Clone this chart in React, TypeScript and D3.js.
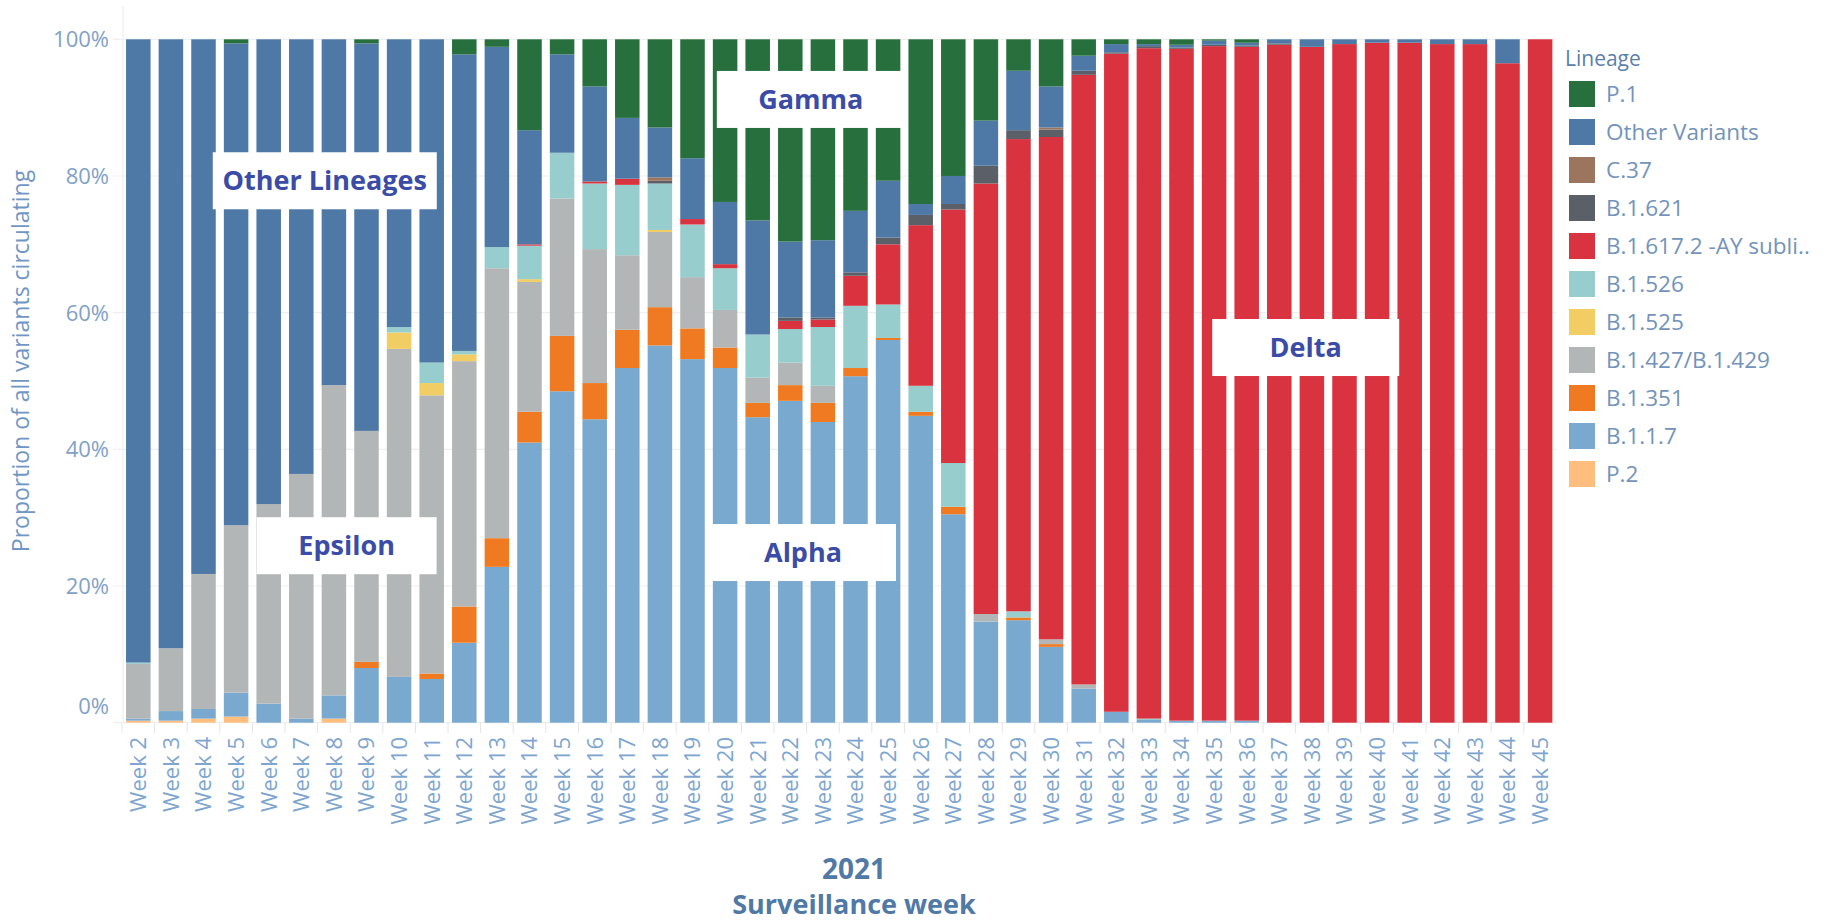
import { useMemo } from "react"
import * as d3 from "d3"

// Surveillance weeks, 2021
const weeks = d3.range(2, 46).map((w) => `Week ${w}`)

// share of sequences (%) per lineage, one value per week (Week 2 .. Week 45)
const p2 = [0.3, 0.3, 0.6, 0.9, 0, 0, 0.6, 0, 0, 0, 0, 0, 0, 0, 0, 0, 0, 0, 0, 0, 0, 0, 0, 0, 0, 0, 0, 0, 0, 0, 0, 0, 0, 0, 0, 0, 0, 0, 0, 0, 0, 0, 0, 0]
const b117 = [0.3, 1.4, 1.4, 3.5, 2.8, 0.6, 3.4, 8.0, 6.7, 6.4, 11.7, 22.8, 41.0, 48.5, 44.4, 51.9, 55.2, 53.2, 51.9, 44.7, 47.1, 44.0, 50.7, 56.0, 44.9, 30.5, 14.8, 15.0, 11.1, 5.0, 1.6, 0.4, 0.3, 0.3, 0.3, 0, 0, 0, 0, 0, 0, 0, 0, 0]
const b1351 = [0, 0, 0, 0, 0, 0, 0, 0.9, 0, 0.8, 5.3, 4.2, 4.5, 8.1, 5.3, 5.6, 5.6, 4.5, 3.0, 2.1, 2.3, 2.8, 1.2, 0.3, 0.6, 1.1, 0, 0.4, 0.4, 0, 0, 0, 0, 0, 0, 0, 0, 0, 0, 0, 0, 0, 0, 0]
const b1427 = [8.0, 9.2, 19.7, 24.5, 29.2, 35.8, 45.4, 33.8, 48.0, 40.7, 35.9, 39.5, 19.0, 20.1, 19.6, 10.9, 11.0, 7.5, 5.5, 3.7, 3.3, 2.5, 0, 0, 0, 0, 1.1, 0, 0.7, 0.6, 0, 0, 0, 0, 0, 0, 0, 0, 0, 0, 0, 0, 0, 0]
const b1525 = [0, 0, 0, 0, 0, 0, 0, 0, 2.4, 1.8, 1.0, 0, 0.4, 0, 0, 0, 0.3, 0, 0, 0, 0, 0, 0, 0, 0, 0, 0, 0, 0, 0, 0, 0, 0, 0, 0, 0, 0, 0, 0, 0, 0, 0, 0, 0]
const b1526 = [0.2, 0, 0, 0, 0, 0, 0, 0, 0.8, 3.0, 0.5, 3.1, 4.9, 6.7, 9.6, 10.3, 6.8, 7.7, 6.1, 6.3, 4.9, 8.6, 9.1, 4.9, 3.8, 6.4, 0, 0.9, 0, 0, 0, 0.2, 0, 0, 0, 0, 0, 0, 0, 0, 0, 0, 0, 0]
const b16172 = [0, 0, 0, 0, 0, 0, 0, 0, 0, 0, 0, 0, 0.2, 0, 0.3, 0.9, 0, 0.8, 0.6, 0, 1.2, 1.1, 4.4, 8.8, 23.5, 37.1, 63.0, 69.1, 73.5, 89.2, 96.3, 98.1, 98.3, 98.7, 98.6, 99.2, 98.9, 99.3, 99.5, 99.5, 99.3, 99.3, 96.5, 100]
const b1621 = [0, 0, 0, 0, 0, 0, 0, 0, 0, 0, 0, 0, 0, 0, 0, 0, 0.4, 0, 0, 0, 0.5, 0.3, 0.5, 1.0, 1.5, 0.8, 2.6, 1.3, 1.1, 0.6, 0.2, 0.3, 0.2, 0.2, 0.2, 0.2, 0, 0, 0, 0, 0, 0, 0, 0]
const c37 = [0, 0, 0, 0, 0, 0, 0, 0, 0, 0, 0, 0, 0, 0, 0, 0, 0.5, 0, 0, 0, 0, 0, 0, 0, 0, 0, 0, 0, 0.3, 0, 0, 0, 0, 0, 0, 0, 0, 0, 0, 0, 0, 0, 0, 0]
const other = [91.2, 89.1, 78.0, 70.5, 68.0, 63.6, 50.6, 56.7, 42.1, 47.3, 43.4, 29.3, 16.7, 14.4, 13.9, 8.9, 7.3, 8.9, 9.1, 16.7, 11.1, 11.3, 9.0, 8.3, 1.6, 4.1, 6.6, 8.7, 6.0, 2.2, 1.2, 0.3, 0.4, 0.6, 0.4, 0.6, 1.1, 0.7, 0.5, 0.5, 0.7, 0.7, 3.5, 0]
const p1 = [0, 0, 0, 0.6, 0, 0, 0, 0.6, 0, 0, 2.2, 1.1, 13.3, 2.2, 6.9, 11.5, 12.9, 17.4, 23.8, 26.5, 29.6, 29.4, 25.1, 20.7, 24.1, 20.0, 11.9, 4.6, 6.9, 2.4, 0.7, 0.7, 0.8, 0.2, 0.5, 0, 0, 0, 0, 0, 0, 0, 0, 0]

// stack order bottom -> top
const lineages = [
  { key: "p2", label: "P.2", color: "#ffbe7d", values: p2 },
  { key: "b117", label: "B.1.1.7", color: "#79a9cf", values: b117 },
  { key: "b1351", label: "B.1.351", color: "#f07a21", values: b1351 },
  { key: "b1427", label: "B.1.427/B.1.429", color: "#b3b6b7", values: b1427 },
  { key: "b1525", label: "B.1.525", color: "#f1cd63", values: b1525 },
  { key: "b1526", label: "B.1.526", color: "#97cdcc", values: b1526 },
  { key: "b16172", label: "B.1.617.2 -AY subli..", color: "#da3340", values: b16172 },
  { key: "b1621", label: "B.1.621", color: "#5b5f68", values: b1621 },
  { key: "c37", label: "C.37", color: "#9c755f", values: c37 },
  { key: "other", label: "Other Variants", color: "#4e79a7", values: other },
  { key: "p1", label: "P.1", color: "#27703d", values: p1 },
]

const yTicks = [0, 0.2, 0.4, 0.6, 0.8, 1]

// text boxes over the bars: centre in week units and share
const annotations = [
  { text: "Other Lineages", week: 7.72, share: 0.793, w: 224 },
  { text: "Epsilon", week: 8.39, share: 0.259, w: 180 },
  { text: "Gamma", week: 22.63, share: 0.912, w: 188 },
  { text: "Alpha", week: 22.39, share: 0.249, w: 186 },
  { text: "Delta", week: 37.81, share: 0.549, w: 187 },
]

const FONT = "'Open Sans', 'Noto Sans', sans-serif"

export default function App() {
  const width = 1827
  const height = 923
  const margin = { top: 39.3, left: 122, right: 1556.4, bottom: 722.7 }

  const rows = useMemo(
    () =>
      weeks.map((w, i) => {
        const r: Record<string, any> = { week: w }
        lineages.forEach((l) => (r[l.key] = l.values[i]))
        return r
      }),
    [],
  )

  const series = d3
    .stack<Record<string, any>>()
    .keys(lineages.map((l) => l.key))
    .offset(d3.stackOffsetExpand)(rows)

  const x = d3.scaleBand().domain(weeks).range([margin.left, margin.right]).paddingInner(0.248).paddingOuter(0.124)
  const y = d3.scaleLinear().domain([0, 1]).range([margin.bottom, margin.top])
  const xWeek = d3
    .scaleLinear()
    .domain([2, 45])
    .range([x("Week 2")! + x.bandwidth() / 2, x("Week 45")! + x.bandwidth() / 2])

  const colorOf = d3
    .scaleOrdinal<string>()
    .domain(lineages.map((l) => l.key))
    .range(lineages.map((l) => l.color))

  const legendItems = [...lineages].reverse()

  return (
    <svg
      width={width}
      height={height}
      style={{ position: "absolute", left: 0, top: 0, background: "#fff", fontFamily: FONT }}
    >
      {/* grid */}
      {yTicks.map((t) => (
        <line key={t} x1={113} x2={margin.right} y1={y(t)} y2={y(t)} stroke="#efefef" strokeWidth={1.2} />
      ))}
      <line x1={123} x2={123} y1={6} y2={margin.bottom} stroke="#ececec" />

      {/* bars */}
      {series.map((s) => (
        <g key={s.key} fill={colorOf(s.key)}>
          {s.map((d, i) => {
            const h = y(d[0]) - y(d[1])
            if (h <= 0) return null
            return <rect key={i} x={x(weeks[i])} width={x.bandwidth()} y={y(d[1])} height={h} />
          })}
        </g>
      ))}

      {/* y axis labels */}
      {yTicks.map((t) => (
        <text
          key={t}
          x={109}
          y={y(t)}
          dy={t === 0 ? "-0.4em" : "0.36em"}
          textAnchor="end"
          fontSize={22}
          fill="#82a1c9"
        >
          {d3.format(".0%")(t)}
        </text>
      ))}
      <text
        transform={`translate(29, 361) rotate(-90)`}
        textAnchor="middle"
        fontSize={23}
        fill="#7096c5"
      >
        Proportion of all variants circulating
      </text>

      {/* x axis */}
      {weeks.map((w) => {
        const sep = x(w)! - (x.step() - x.bandwidth()) / 2
        return <line key={"s" + w} x1={sep} x2={sep} y1={margin.bottom} y2={733} stroke="#e4e4e4" />
      })}
      {weeks.map((w) => (
        <text
          key={w}
          transform={`translate(${x(w)! + x.bandwidth() / 2}, 737) rotate(-90)`}
          textAnchor="end"
          dy="0.36em"
          fontSize={22}
          fill="#7ea5cf"
        >
          {w}
        </text>
      ))}
      <text x={854} y={879} textAnchor="middle" fontSize={28} fontWeight={700} fill="#5079a6">
        2021
      </text>
      <text x={854} y={914} textAnchor="middle" fontSize={27} fontWeight={700} fill="#5079a6">
        Surveillance week
      </text>

      {/* annotations */}
      {annotations.map((a) => {
        const cx = xWeek(a.week)
        const cy = y(a.share)
        return (
          <g key={a.text}>
            <rect x={cx - a.w / 2} y={cy - 28.5} width={a.w} height={57} fill="#fff" />
            <text x={cx} y={cy} dy="0.36em" textAnchor="middle" fontSize={27} fontWeight={700} fill="#3b4ca6">
              {a.text}
            </text>
          </g>
        )
      })}

      {/* legend */}
      <text x={1565} y={58} dy="0.36em" fontSize={21} fill="#5a7fab">
        Lineage
      </text>
      {legendItems.map((l, i) => (
        <g key={l.key} transform={`translate(1569, ${81 + i * 38})`}>
          <rect width={26} height={26} fill={l.color} />
          <text x={37} y={13} dy="0.36em" fontSize={22.5} fill="#7393bb">
            {l.label}
          </text>
        </g>
      ))}
    </svg>
  )
}
